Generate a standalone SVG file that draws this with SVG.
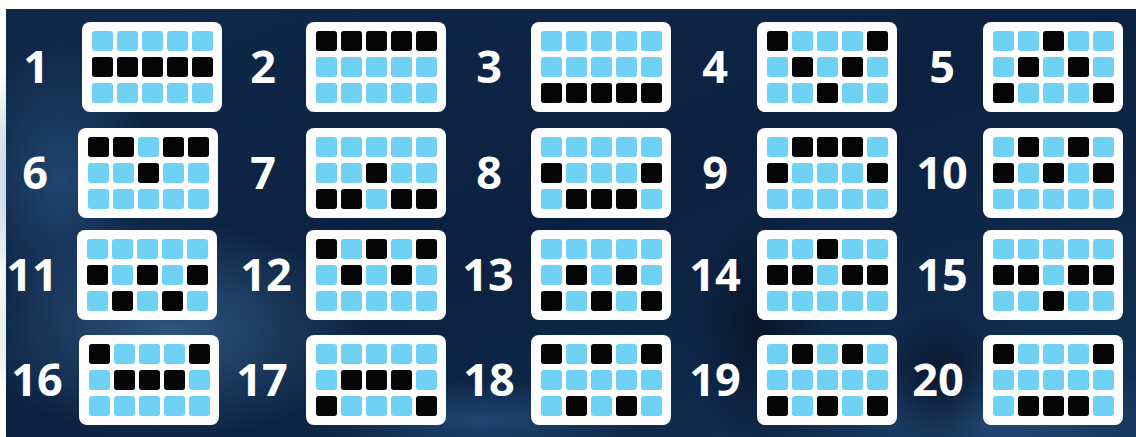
<svg xmlns="http://www.w3.org/2000/svg" xmlns:xlink="http://www.w3.org/1999/xlink" width="1136" height="437" viewBox="0 0 1136 437">
<style>
.card{fill:#fdfdfd}
.c{fill:#6fd2f4}
.k{fill:#060606}
.num{font-family:"Open Sans","Liberation Sans",sans-serif;font-weight:700;font-size:45px;fill:#ffffff;text-anchor:middle}
</style>
<defs>
<linearGradient id="bg" x1="0" y1="0" x2="1" y2="1">
<stop offset="0" stop-color="#10294a"/>
<stop offset="0.5" stop-color="#0b2140"/>
<stop offset="1" stop-color="#123156"/>
</linearGradient>
<radialGradient id="glow1" cx="0.5" cy="0.5" r="0.5">
<stop offset="0" stop-color="#3d6a98" stop-opacity="0.7"/>
<stop offset="1" stop-color="#3d6a98" stop-opacity="0"/>
</radialGradient>
<radialGradient id="glow2" cx="0.5" cy="0.5" r="0.5">
<stop offset="0" stop-color="#2d5a8c" stop-opacity="0.6"/>
<stop offset="1" stop-color="#2d5a8c" stop-opacity="0"/>
</radialGradient>
<radialGradient id="dark" cx="0.5" cy="0.5" r="0.5">
<stop offset="0" stop-color="#050d1c" stop-opacity="0.7"/>
<stop offset="1" stop-color="#050d1c" stop-opacity="0"/>
</radialGradient>
<g id="blank">
<rect class="card" x="0" y="0" width="140" height="90" rx="8"/>
<rect class="c" x="10" y="9" width="21" height="20" rx="3"/><rect class="c" x="35" y="9" width="21" height="20" rx="3"/><rect class="c" x="60" y="9" width="21" height="20" rx="3"/><rect class="c" x="85" y="9" width="21" height="20" rx="3"/><rect class="c" x="110" y="9" width="21" height="20" rx="3"/>
<rect class="c" x="10" y="35" width="21" height="20" rx="3"/><rect class="c" x="35" y="35" width="21" height="20" rx="3"/><rect class="c" x="60" y="35" width="21" height="20" rx="3"/><rect class="c" x="85" y="35" width="21" height="20" rx="3"/><rect class="c" x="110" y="35" width="21" height="20" rx="3"/>
<rect class="c" x="10" y="61" width="21" height="20" rx="3"/><rect class="c" x="35" y="61" width="21" height="20" rx="3"/><rect class="c" x="60" y="61" width="21" height="20" rx="3"/><rect class="c" x="85" y="61" width="21" height="20" rx="3"/><rect class="c" x="110" y="61" width="21" height="20" rx="3"/>
</g>
<rect id="b" class="k" width="21" height="20" rx="3"/>
</defs>

<g id="background">
<rect x="0" y="0" width="1136" height="437" fill="#ffffff"/>
<rect x="6" y="9" width="1130" height="428" fill="url(#bg)"/>
<ellipse cx="170" cy="330" rx="200" ry="110" fill="url(#glow1)"/>
<ellipse cx="60" cy="180" rx="90" ry="140" fill="url(#glow2)"/>
<ellipse cx="1000" cy="420" rx="200" ry="60" fill="url(#glow2)"/>
<ellipse cx="480" cy="420" rx="160" ry="40" fill="url(#glow2)"/>
<ellipse cx="760" cy="330" rx="70" ry="120" fill="url(#dark)"/>
<ellipse cx="940" cy="380" rx="60" ry="70" fill="url(#dark)"/>
</g>

<g id="line-1"><text class="num" x="36" y="83">1</text><g transform="translate(82,22)"><use xlink:href="#blank"/><use xlink:href="#b" x="10" y="35"/><use xlink:href="#b" x="35" y="35"/><use xlink:href="#b" x="60" y="35"/><use xlink:href="#b" x="85" y="35"/><use xlink:href="#b" x="110" y="35"/></g></g>
<g id="line-2"><text class="num" x="263" y="83">2</text><g transform="translate(306,22)"><use xlink:href="#blank"/><use xlink:href="#b" x="10" y="9"/><use xlink:href="#b" x="35" y="9"/><use xlink:href="#b" x="60" y="9"/><use xlink:href="#b" x="85" y="9"/><use xlink:href="#b" x="110" y="9"/></g></g>
<g id="line-3"><text class="num" x="489" y="83">3</text><g transform="translate(531,22)"><use xlink:href="#blank"/><use xlink:href="#b" x="10" y="61"/><use xlink:href="#b" x="35" y="61"/><use xlink:href="#b" x="60" y="61"/><use xlink:href="#b" x="85" y="61"/><use xlink:href="#b" x="110" y="61"/></g></g>
<g id="line-4"><text class="num" x="715" y="83">4</text><g transform="translate(757,22)"><use xlink:href="#blank"/><use xlink:href="#b" x="10" y="9"/><use xlink:href="#b" x="110" y="9"/><use xlink:href="#b" x="35" y="35"/><use xlink:href="#b" x="85" y="35"/><use xlink:href="#b" x="60" y="61"/></g></g>
<g id="line-5"><text class="num" x="942" y="83">5</text><g transform="translate(983,22)"><use xlink:href="#blank"/><use xlink:href="#b" x="60" y="9"/><use xlink:href="#b" x="35" y="35"/><use xlink:href="#b" x="85" y="35"/><use xlink:href="#b" x="10" y="61"/><use xlink:href="#b" x="110" y="61"/></g></g>

<g id="line-6"><text class="num" x="35" y="189">6</text><g transform="translate(78,128)"><use xlink:href="#blank"/><use xlink:href="#b" x="10" y="9"/><use xlink:href="#b" x="35" y="9"/><use xlink:href="#b" x="85" y="9"/><use xlink:href="#b" x="110" y="9"/><use xlink:href="#b" x="60" y="35"/></g></g>
<g id="line-7"><text class="num" x="263" y="189">7</text><g transform="translate(306,128)"><use xlink:href="#blank"/><use xlink:href="#b" x="60" y="35"/><use xlink:href="#b" x="10" y="61"/><use xlink:href="#b" x="35" y="61"/><use xlink:href="#b" x="85" y="61"/><use xlink:href="#b" x="110" y="61"/></g></g>
<g id="line-8"><text class="num" x="489" y="189">8</text><g transform="translate(531,128)"><use xlink:href="#blank"/><use xlink:href="#b" x="10" y="35"/><use xlink:href="#b" x="110" y="35"/><use xlink:href="#b" x="35" y="61"/><use xlink:href="#b" x="60" y="61"/><use xlink:href="#b" x="85" y="61"/></g></g>
<g id="line-9"><text class="num" x="715" y="189">9</text><g transform="translate(757,128)"><use xlink:href="#blank"/><use xlink:href="#b" x="35" y="9"/><use xlink:href="#b" x="60" y="9"/><use xlink:href="#b" x="85" y="9"/><use xlink:href="#b" x="10" y="35"/><use xlink:href="#b" x="110" y="35"/></g></g>
<g id="line-10"><text class="num" x="942" y="189">10</text><g transform="translate(983,128)"><use xlink:href="#blank"/><use xlink:href="#b" x="35" y="9"/><use xlink:href="#b" x="85" y="9"/><use xlink:href="#b" x="10" y="35"/><use xlink:href="#b" x="60" y="35"/><use xlink:href="#b" x="110" y="35"/></g></g>

<g id="line-11"><text class="num" x="32" y="291">11</text><g transform="translate(77,230)"><use xlink:href="#blank"/><use xlink:href="#b" x="10" y="35"/><use xlink:href="#b" x="60" y="35"/><use xlink:href="#b" x="110" y="35"/><use xlink:href="#b" x="35" y="61"/><use xlink:href="#b" x="85" y="61"/></g></g>
<g id="line-12"><text class="num" x="266" y="291">12</text><g transform="translate(306,230)"><use xlink:href="#blank"/><use xlink:href="#b" x="10" y="9"/><use xlink:href="#b" x="60" y="9"/><use xlink:href="#b" x="110" y="9"/><use xlink:href="#b" x="35" y="35"/><use xlink:href="#b" x="85" y="35"/></g></g>
<g id="line-13"><text class="num" x="488" y="291">13</text><g transform="translate(531,230)"><use xlink:href="#blank"/><use xlink:href="#b" x="35" y="35"/><use xlink:href="#b" x="85" y="35"/><use xlink:href="#b" x="10" y="61"/><use xlink:href="#b" x="60" y="61"/><use xlink:href="#b" x="110" y="61"/></g></g>
<g id="line-14"><text class="num" x="715" y="291">14</text><g transform="translate(757,230)"><use xlink:href="#blank"/><use xlink:href="#b" x="60" y="9"/><use xlink:href="#b" x="10" y="35"/><use xlink:href="#b" x="35" y="35"/><use xlink:href="#b" x="85" y="35"/><use xlink:href="#b" x="110" y="35"/></g></g>
<g id="line-15"><text class="num" x="942" y="291">15</text><g transform="translate(983,230)"><use xlink:href="#blank"/><use xlink:href="#b" x="10" y="35"/><use xlink:href="#b" x="35" y="35"/><use xlink:href="#b" x="85" y="35"/><use xlink:href="#b" x="110" y="35"/><use xlink:href="#b" x="60" y="61"/></g></g>

<g id="line-16"><text class="num" x="37" y="396">16</text><g transform="translate(79,335)"><use xlink:href="#blank"/><use xlink:href="#b" x="10" y="9"/><use xlink:href="#b" x="110" y="9"/><use xlink:href="#b" x="35" y="35"/><use xlink:href="#b" x="60" y="35"/><use xlink:href="#b" x="85" y="35"/></g></g>
<g id="line-17"><text class="num" x="262" y="396">17</text><g transform="translate(306,335)"><use xlink:href="#blank"/><use xlink:href="#b" x="35" y="35"/><use xlink:href="#b" x="60" y="35"/><use xlink:href="#b" x="85" y="35"/><use xlink:href="#b" x="10" y="61"/><use xlink:href="#b" x="110" y="61"/></g></g>
<g id="line-18"><text class="num" x="489" y="396">18</text><g transform="translate(531,335)"><use xlink:href="#blank"/><use xlink:href="#b" x="10" y="9"/><use xlink:href="#b" x="60" y="9"/><use xlink:href="#b" x="110" y="9"/><use xlink:href="#b" x="35" y="61"/><use xlink:href="#b" x="85" y="61"/></g></g>
<g id="line-19"><text class="num" x="715" y="396">19</text><g transform="translate(757,335)"><use xlink:href="#blank"/><use xlink:href="#b" x="35" y="9"/><use xlink:href="#b" x="85" y="9"/><use xlink:href="#b" x="10" y="61"/><use xlink:href="#b" x="60" y="61"/><use xlink:href="#b" x="110" y="61"/></g></g>
<g id="line-20"><text class="num" x="938" y="396">20</text><g transform="translate(983,335)"><use xlink:href="#blank"/><use xlink:href="#b" x="10" y="9"/><use xlink:href="#b" x="110" y="9"/><use xlink:href="#b" x="35" y="61"/><use xlink:href="#b" x="60" y="61"/><use xlink:href="#b" x="85" y="61"/></g></g>
</svg>
